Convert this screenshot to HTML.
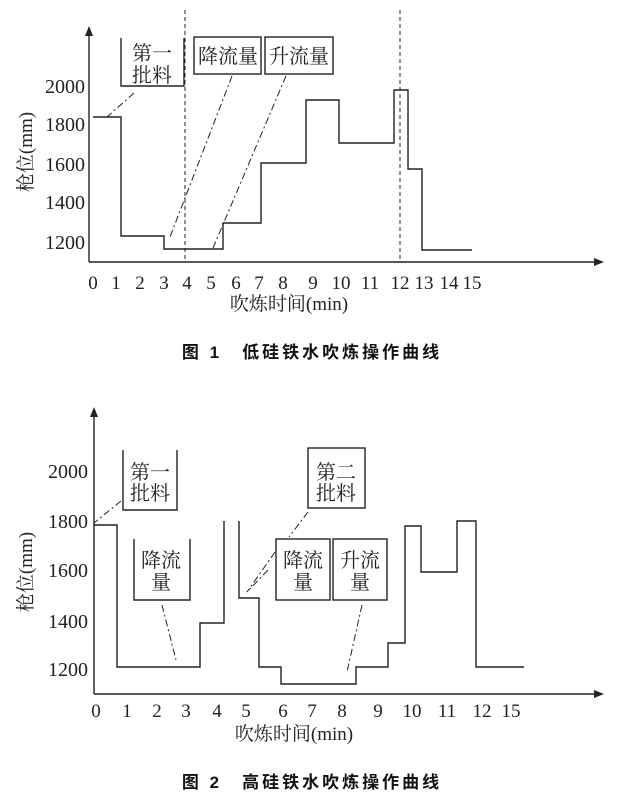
<!DOCTYPE html>
<html><head><meta charset="utf-8"><style>
html,body{margin:0;padding:0;background:#fff;}
svg{display:block;}
.t{font-family:"Liberation Serif","Noto Serif CJK SC",serif;fill:#222;}
.c{font-family:"Liberation Serif","Noto Serif CJK SC",serif;fill:#222;font-size:20px;}
.cap{font-family:"Liberation Sans","Noto Sans CJK SC",sans-serif;fill:#111;font-size:17px;letter-spacing:3px;font-weight:bold;}
</style></head><body>
<svg width="633" height="805" viewBox="0 0 633 805" xmlns="http://www.w3.org/2000/svg">
<g stroke="#222" stroke-width="1.4" fill="none">
<line x1="89" y1="34" x2="89" y2="262"/>
<line x1="89" y1="262" x2="596" y2="262"/>
</g>
<polygon points="89,26 85,36 93,36" fill="#222"/>
<polygon points="604,262 594,258 594,266" fill="#222"/>
<g stroke="#222" stroke-width="1.4" fill="none">
<polyline points="93,117 121,117 121,236 164,236 164,249 223,249 223,223 261,223 261,163 306,163 306,100 339,100 339,143 394,143 394,90 408,90 408,169 422,169 422,250 472,250"/>
<polyline points="121,38 121,86 184,86 184,38"/>
<rect x="194" y="37" width="67" height="37"/>
<rect x="265" y="37" width="68" height="37"/>
</g>
<g stroke="#222" stroke-width="1" fill="none" stroke-dasharray="4,3">
<line x1="185" y1="10" x2="185" y2="262"/>
<line x1="400" y1="10" x2="400" y2="262"/>
</g>
<g stroke="#222" stroke-width="1" fill="none" stroke-dasharray="7,3,2,3">
<line x1="134" y1="93" x2="107" y2="117"/>
<line x1="232" y1="76" x2="170" y2="237"/>
<line x1="286" y1="76" x2="213" y2="248"/>
</g>
<g class="c" text-anchor="middle">
<text x="152" y="60">第一</text>
<text x="152" y="82">批料</text>
<text x="228" y="63">降流量</text>
<text x="299" y="63">升流量</text>
</g>
<g class="t" font-size="20" text-anchor="end">
<text x="85" y="93">2000</text>
<text x="85" y="131">1800</text>
<text x="85" y="171">1600</text>
<text x="85" y="209">1400</text>
<text x="85" y="249">1200</text>
</g>
<g class="t" font-size="19" text-anchor="middle">
<text x="93" y="289">0</text><text x="116" y="289">1</text><text x="140" y="289">2</text><text x="164" y="289">3</text><text x="187" y="289">4</text><text x="211" y="289">5</text><text x="236" y="289">6</text><text x="259" y="289">7</text><text x="283" y="289">8</text><text x="313" y="289">9</text><text x="341" y="289">10</text><text x="370" y="289">11</text><text x="400" y="289">12</text><text x="424" y="289">13</text><text x="449" y="289">14</text><text x="472" y="289">15</text>
<text x="289" y="310">吹炼时间(min)</text>
</g>
<text class="t" font-size="19" text-anchor="middle" transform="translate(32,152) rotate(-90)">枪位(mm)</text>
<text class="cap" x="312" y="358" text-anchor="middle">图 1　低硅铁水吹炼操作曲线</text>

<g stroke="#222" stroke-width="1.4" fill="none">
<line x1="94" y1="415" x2="94" y2="694"/>
<line x1="94" y1="694" x2="596" y2="694"/>
</g>
<polygon points="94,407 90,417 98,417" fill="#222"/>
<polygon points="604,694 594,690 594,698" fill="#222"/>
<g stroke="#222" stroke-width="1.4" fill="none">
<polyline points="94,525 117,525 117,667 200,667 200,623 224,623 224,521"/>
<polyline points="239,521 239,598 259,598 259,667 281,667 281,684 356,684 356,667 388,667 388,643 405,643 405,526 421,526 421,572 457,572 457,521 476,521 476,667 524,667"/>
<polyline points="123,450 123,510 177,510 177,450"/>
<polyline points="134,539 134,600 190,600 190,539"/>
<rect x="308" y="448" width="57" height="60"/>
<rect x="276" y="539" width="54" height="61"/>
<rect x="333" y="539" width="54" height="61"/>
</g>
<g stroke="#222" stroke-width="1" fill="none" stroke-dasharray="7,3,2,3">
<line x1="121" y1="501" x2="94" y2="523"/>
<line x1="162" y1="605" x2="176" y2="660"/>
<line x1="308" y1="512" x2="289" y2="537"/>
<line x1="275" y1="552" x2="247" y2="592"/>
<line x1="268" y1="570" x2="247" y2="592"/>
<line x1="362" y1="605" x2="347" y2="672"/>
</g>
<g class="c" text-anchor="middle">
<text x="150" y="479">第一</text>
<text x="150" y="500">批料</text>
<text x="161" y="567">降流</text>
<text x="161" y="589">量</text>
<text x="336" y="479">第二</text>
<text x="336" y="500">批料</text>
<text x="303" y="567">降流</text>
<text x="303" y="589">量</text>
<text x="360" y="567">升流</text>
<text x="360" y="589">量</text>
</g>
<g class="t" font-size="20" text-anchor="end">
<text x="88" y="478">2000</text>
<text x="88" y="528">1800</text>
<text x="88" y="577">1600</text>
<text x="88" y="628">1400</text>
<text x="88" y="676">1200</text>
</g>
<g class="t" font-size="19" text-anchor="middle">
<text x="96" y="717">0</text><text x="127" y="717">1</text><text x="157" y="717">2</text><text x="186" y="717">3</text><text x="217" y="717">4</text><text x="246" y="717">5</text><text x="283" y="717">6</text><text x="312" y="717">7</text><text x="342" y="717">8</text><text x="378" y="717">9</text><text x="412" y="717">10</text><text x="447" y="717">11</text><text x="482" y="717">12</text><text x="511" y="717">15</text>
<text x="294" y="740">吹炼时间(min)</text>
</g>
<text class="t" font-size="19" text-anchor="middle" transform="translate(32,572) rotate(-90)">枪位(mm)</text>
<text class="cap" x="312" y="788" text-anchor="middle">图 2　高硅铁水吹炼操作曲线</text>
</svg>
</body></html>
